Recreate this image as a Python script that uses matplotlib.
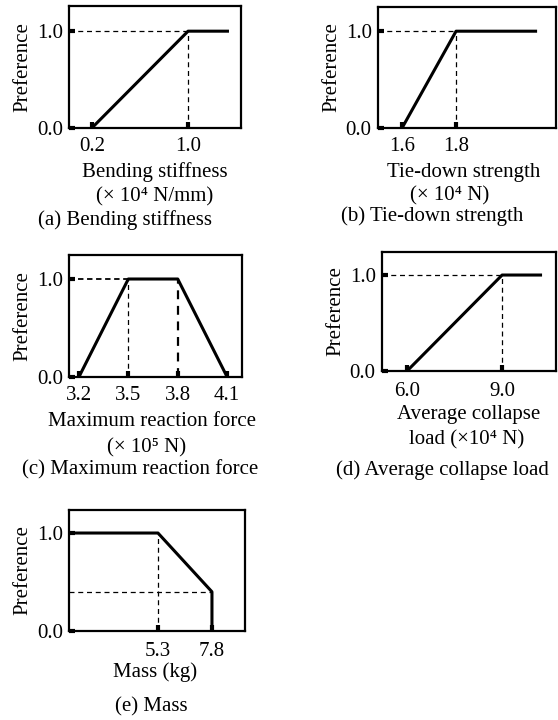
import matplotlib
matplotlib.use("Agg")
import matplotlib.pyplot as plt

# --- data ---
a_x = [0.2, 1.0, 1.34]
a_y = [0.0, 1.0, 1.0]
a_ticks = [0.2, 1.0]

b_x = [1.6, 1.8, 2.1]
b_y = [0.0, 1.0, 1.0]
b_ticks = [1.6, 1.8]

c_x = [3.2, 3.5, 3.8, 4.1]
c_y = [0.0, 1.0, 1.0, 0.0]
c_ticks = [3.2, 3.5, 3.8, 4.1]

d_x = [6.0, 9.0, 10.26]
d_y = [0.0, 1.0, 1.0]
d_ticks = [6.0, 9.0]

e_x = [1.2, 5.3, 7.8, 7.8]
e_y = [1.0, 1.0, 0.4, 0.0]
e_ticks = [5.3, 7.8]

y_ticks = [0.0, 1.0]

W, H = 558, 720
FS = 15

plt.rcParams["font.family"] = ["Liberation Serif", "DejaVu Serif"]

fig = plt.figure(figsize=(W / 100, H / 100), dpi=100)


def box(left, top, right, bottom):
    # pixel box -> figure axes
    return fig.add_axes([left / W, 1 - bottom / H, (right - left) / W, (bottom - top) / H])


def txt(x, y, s):
    fig.text(x / W, 1 - y / H, s, ha="center", va="center", fontsize=FS)


def style(ax, xlim, ylim, xticks, xpad=7):
    ax.set_xlim(*xlim)
    ax.set_ylim(*ylim)
    ax.set_xticks(xticks)
    ax.set_xticklabels([f"{t:.1f}" for t in xticks])
    ax.set_yticks(y_ticks)
    ax.set_yticklabels([f"{t:.1f}" for t in y_ticks])
    ax.tick_params(direction="in", length=4, width=3, labelsize=FS)
    ax.tick_params(axis="x", pad=xpad)
    ax.tick_params(axis="y", pad=4.5)
    for s in ax.spines.values():
        s.set_linewidth(1.6)
    ax.set_ylabel("Preference", fontsize=FS, labelpad=3.5)


dash = dict(color="black", lw=0.9, ls=(0, (4, 3)))
solid = dict(color="black", lw=2.2, solid_capstyle="butt")

# (a) Bending stiffness
ax = box(69, 6, 241, 128)
xl = (0.01, 1.44)
style(ax, xl, (0, 1.26), a_ticks, xpad=6.5)
ax.plot([xl[0], a_x[1]], [1, 1], **dash)
ax.plot([a_x[1], a_x[1]], [0, 1], **dash)
ax.plot(a_x, a_y, **solid)
txt(155, 172, "Bending stiffness")
txt(155, 197, "(× 10⁴ N/mm)")
txt(125, 220, "(a) Bending stiffness")

# (b) Tie-down strength
ax = box(378, 7, 556, 128)
xl = (1.511, 2.17)
style(ax, xl, (0, 1.25), b_ticks, xpad=6.5)
ax.plot([xl[0], b_x[1]], [1, 1], **dash)
ax.plot([b_x[1], b_x[1]], [0, 1], **dash)
ax.plot(b_x, b_y, **solid)
txt(464, 172, "Tie-down strength")
txt(450, 196, "(× 10⁴ N)")
txt(432, 216, "(b) Tie-down strength")

# (c) Maximum reaction force
ax = box(69, 255, 242, 377)
xl = (3.14, 4.19)
style(ax, xl, (0, 1.245), c_ticks, xpad=6.5)
ax.plot([xl[0], c_x[1]], [1, 1], color="black", lw=1.3, ls=(0, (3, 2)))
ax.plot([c_x[1], c_x[1]], [0, 1], **dash)
ax.plot([c_x[2], c_x[2]], [0, 1], color="black", lw=1.6, ls=(0, (4, 3)))
ax.plot(c_x, c_y, **solid)
txt(152, 422, "Maximum reaction force")
txt(147, 448, "(× 10⁵ N)")
txt(140, 470, "(c) Maximum reaction force")

# (d) Average collapse load
ax = box(382, 252, 556, 371)
xl = (5.21, 10.7)
style(ax, xl, (0, 1.24), d_ticks, xpad=8)
ax.plot([xl[0], d_x[1]], [1, 1], **dash)
ax.plot([d_x[1], d_x[1]], [0, 1], **dash)
ax.plot(d_x, d_y, **solid)
txt(469, 415, "Average collapse")
txt(467, 440, "load (×10⁴ N)")
txt(442, 470, "(d) Average collapse load")

# (e) Mass
ax = box(69, 510, 245, 631)
xl = (1.18, 9.33)
style(ax, xl, (0, 1.235), e_ticks, xpad=8)
ax.plot([e_x[1], e_x[1]], [0, 1], **dash)
ax.plot([xl[0], e_x[2]], [e_y[2], e_y[2]], **dash)
ax.plot(e_x, e_y, **solid)
txt(155, 672, "Mass (kg)")
txt(151, 707, "(e) Mass")

fig.savefig("out.png", dpi=100)
